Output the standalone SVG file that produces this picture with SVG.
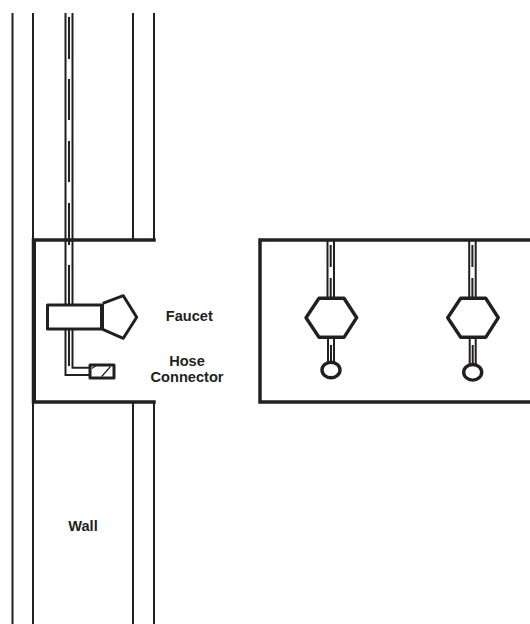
<svg xmlns="http://www.w3.org/2000/svg" width="530" height="624" viewBox="0 0 530 624">
<style>
.t{fill:none;stroke:#231f20;stroke-width:2}
.m{fill:none;stroke:#231f20;stroke-width:2}
.h{fill:none;stroke:#231f20;stroke-width:3.5;stroke-linecap:square}
.o{fill:#fff;stroke:#231f20;stroke-width:3;stroke-linejoin:round}
.v{fill:#fff;stroke:#231f20;stroke-width:3.4;stroke-linejoin:round}
.c{fill:#231f20;stroke:none}
text{font-family:"Liberation Sans",Arial,sans-serif;font-weight:bold;font-size:14.6px;fill:#231f20;text-anchor:middle}
</style>
<rect width="530" height="624" fill="#fff"/>
<g id="connectors">
<path class="t" d="M12.5 13V624M33 13V240M33 402V624M133 13V240M133 402V624M154 13V240M154 402V624"/>
<path class="m" d="M65.5 13V305M72.5 13V305"/>
<path class="m" d="M69 17V59M69 79V120M69 141V182M69 203V245M69 265V305M69 329V366"/>
<path class="m" d="M65.5 329V375H89M72.5 329V367.7H89"/>
<path class="m" d="M327.5 240V298M334 240V298M469.2 240V298M475.7 240V298"/>
<path class="m" d="M330.7 245V267M330.7 278V298M472.4 245V267M472.4 278V298"/>
<path class="m" d="M328 337V362M334 337V362M469.7 337V364M475.7 337V364"/>
<path class="m" d="M331 345V361M472.7 345V363"/>
</g>
<g id="wall">
<path class="h" d="M154 240H33.5V402H154"/>
<rect class="c" x="32" y="240" width="4" height="162"/>
<text x="83" y="531">Wall</text>
</g>
<g id="faucet">
<rect class="o" x="47.5" y="305" width="54.5" height="24"/>
<rect class="c" x="100" y="304" width="4" height="26"/>
<path class="o" d="M102.7 303.3L123.3 295.7L136.7 317.3L123.3 338.3L102.7 329.3" style="fill:none"/>
<text x="189.3" y="320.5">Faucet</text>
</g>
<g id="hose-connector">
<rect class="o" x="90" y="365" width="24" height="13"/>
<path d="M101.7 376.5L110.5 366.5M91.7 368.5L95.7 366" stroke="#231f20" stroke-width="1.2" fill="none"/>
<text x="187" y="365.7">Hose</text>
<text x="187" y="382.3">Connector</text>
</g>
<g id="panel">
<path class="h" d="M531 240H260V402H531"/>
</g>
<g id="valve-1">
<path class="v" d="M306 317.7L319 298.3H344L356.7 317.7L344 337.3H319Z"/>
<ellipse class="v" cx="331" cy="370" rx="9" ry="7.8"/>
</g>
<g id="valve-2">
<path class="v" d="M447.7 317.7L460.7 298.3H485.7L498.3 317.7L485.7 337.3H460.7Z"/>
<ellipse class="v" cx="472.7" cy="372.3" rx="9" ry="7.8"/>
</g>
</svg>
